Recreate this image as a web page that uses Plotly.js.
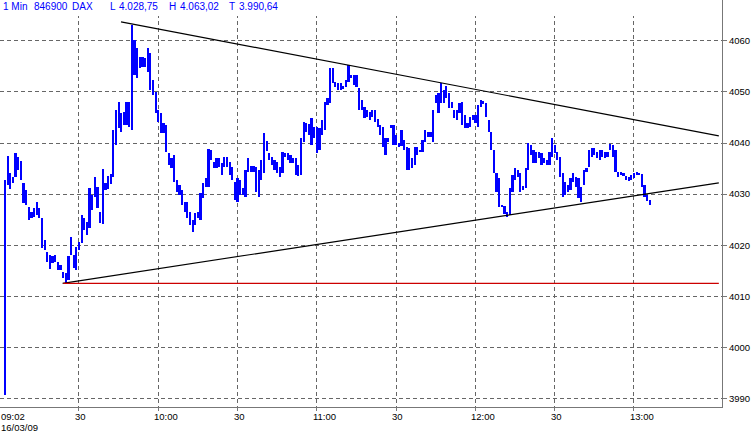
<!DOCTYPE html>
<html>
<head>
<meta charset="utf-8">
<script src="https://cdn.plot.ly/plotly-3.0.1.min.js"></script>
<style>html,body{margin:0;padding:0;background:#fff;}#chart{width:753px;height:436px;}</style>
</head>
<body>
<div id="chart"></div>
<script>
// ---- Data (1-minute bars, DAX 16/03/09, starting 09:02) ----
const tradeDate = '2009-03-16';
const firstBarMinuteOfDay = 9 * 60 + 2;

const highs = [
4032.8,4037.4,4034.1,4033.3,4038.0,4037.3,4036.5,4032.2,4030.8,4027.5,
4026.5,4027.3,4028.4,4027.3,4025.3,4021.0,4018.7,4018.1,4017.9,4018.1,
4016.7,4016.1,4014.8,4014.6,4017.9,4021.6,4018.1,4019.6,4020.6,4025.9,
4025.3,4024.5,4031.2,4029.8,4033.3,4031.4,4026.5,4034.9,4032.2,4033.5,
4034.0,4042.5,4046.4,4048.0,4045.8,4046.0,4048.0,4048.0,4063.02,4060.1,
4058.6,4056.8,4056.8,4056.6,4058.6,4057.6,4052.3,4050.0,4046.4,4045.8,
4043.9,4043.5,4038.0,4037.0,4037.6,4032.8,4031.8,4030.8,4028.4,4028.4,
4026.5,4024.9,4026.3,4026.5,4030.2,4032.2,4033.1,4038.8,4038.6,4036.3,
4037.0,4037.0,4036.1,4037.3,4037.3,4036.3,4035.3,4032.4,4033.1,4032.8,
4031.2,4034.7,4037.0,4035.5,4035.5,4035.3,4034.7,4036.7,4042.0,4040.4,
4038.0,4037.3,4036.7,4036.3,4035.3,4038.2,4038.0,4038.0,4037.6,4037.0,
4037.0,4035.7,4041.0,4044.1,4043.9,4043.7,4044.9,4043.1,4043.1,4042.9,
4044.5,4048.0,4048.8,4054.6,4054.6,4051.9,4051.7,4051.7,4051.1,4052.3,
4055.3,4053.3,4053.3,4053.3,4050.7,4048.4,4047.0,4046.4,4046.0,4046.4,
4046.4,4044.7,4043.5,4043.1,4041.0,4041.0,4043.5,4043.5,4041.6,4040.0,
4042.5,4040.6,4039.2,4039.0,4037.0,4039.2,4039.2,4038.6,4040.6,4042.5,
4042.1,4042.1,4046.4,4049.4,4049.8,4051.7,4050.4,4051.1,4049.8,4048.0,
4046.4,4046.4,4047.8,4048.0,4045.5,4043.9,4045.1,4045.5,4045.5,4047.4,
4048.4,4048.2,4047.8,4044.5,4042.1,4038.6,4034.1,4033.1,4027.9,4027.7,
4026.5,4031.2,4033.7,4035.1,4034.7,4034.1,4031.6,4035.1,4040.0,4039.6,
4038.6,4038.2,4038.2,4038.0,4037.0,4036.7,4038.2,4041.0,4039.6,4038.2,
4037.3,4034.1,4032.4,4031.8,4033.1,4034.1,4033.3,4033.1,4031.4,4034.7,
4035.1,4038.6,4039.0,4039.0,4038.2,4038.6,4038.6,4038.2,4038.2,4039.8,
4039.6,4038.6,4034.3,4034.3,4034.1,4033.5,4033.3,4033.7,4034.1,4034.3,
4034.1,4033.9,4031.8,4029.8,4028.8
];

const lows = [
3990.64,4031.8,4031.0,4032.2,4033.3,4034.7,4032.8,4028.3,4027.9,4024.9,
4025.3,4025.5,4025.9,4025.3,4019.4,4019.1,4016.7,4015.3,4016.5,4016.7,
4015.2,4015.2,4013.6,4012.6,4013.2,4018.1,4015.6,4015.2,4019.1,4020.4,
4023.0,4022.0,4023.4,4026.9,4029.4,4027.3,4024.3,4024.1,4030.8,4031.0,
4032.0,4033.3,4039.6,4042.9,4042.1,4043.5,4043.5,4043.1,4042.5,4053.3,
4052.7,4054.7,4054.9,4054.9,4053.9,4050.4,4049.4,4045.8,4044.1,4042.0,
4042.0,4038.2,4035.7,4035.1,4032.4,4030.4,4029.8,4027.9,4026.5,4025.3,
4024.0,4022.6,4024.0,4025.3,4024.9,4029.2,4031.4,4031.4,4036.7,4035.1,
4035.1,4035.3,4033.7,4035.3,4035.3,4033.7,4032.8,4028.8,4028.4,4029.8,
4029.8,4029.4,4034.3,4034.3,4034.3,4030.4,4029.4,4032.8,4034.1,4038.4,
4036.7,4035.7,4034.7,4034.1,4033.3,4034.1,4037.2,4036.7,4036.1,4036.1,
4033.7,4033.5,4033.7,4040.2,4042.1,4041.6,4039.6,4041.0,4038.0,4038.6,
4041.6,4042.5,4047.4,4047.8,4051.7,4050.9,4050.4,4050.4,4050.6,4050.9,
4051.9,4052.7,4051.3,4050.9,4046.4,4046.4,4044.9,4045.1,4044.5,4045.1,
4044.1,4043.1,4041.6,4039.2,4037.6,4040.2,4042.9,4039.6,4039.6,4039.2,
4039.4,4038.6,4034.7,4034.7,4035.1,4035.7,4037.6,4038.2,4038.2,4040.2,
4041.2,4041.2,4040.2,4047.8,4045.8,4047.8,4047.8,4048.8,4046.8,4046.8,
4044.9,4044.5,4045.8,4043.5,4042.9,4042.9,4043.1,4044.5,4043.9,4043.1,
4047.0,4047.6,4045.1,4042.1,4038.6,4034.1,4030.4,4027.4,4027.4,4026.1,
4025.5,4025.9,4030.4,4032.8,4033.3,4030.4,4030.8,4031.2,4034.7,4037.6,
4036.1,4036.1,4037.0,4035.7,4036.1,4035.7,4035.7,4037.3,4038.0,4036.7,
4033.3,4029.4,4029.8,4030.4,4030.8,4032.4,4031.4,4029.2,4028.4,4031.8,
4034.3,4035.3,4037.3,4037.6,4037.0,4036.7,4037.3,4037.0,4037.3,4038.6,
4037.3,4034.3,4033.3,4033.7,4033.5,4032.8,4032.6,4032.8,4033.1,4033.7,
4033.7,4031.4,4029.4,4028.6,4027.9
];

// Trend lines drawn on the chart (time, price)
const upperTrendTimes = ['2009-03-16 09:45:54', '2009-03-16 13:32:06'];
const upperTrendValues = [4063.7, 4041.4];
const lowerTrendTimes = ['2009-03-16 09:23:48', '2009-03-16 13:32:06'];
const lowerTrendValues = [4012.56, 4032.2];
const supportTimes = ['2009-03-16 09:24:04', '2009-03-16 13:32:06'];
const supportValues = [4012.56, 4012.56];

// Axis ticks
const xTickTimes = ['2009-03-16 09:30','2009-03-16 10:00','2009-03-16 10:30','2009-03-16 11:00','2009-03-16 11:30','2009-03-16 12:00','2009-03-16 12:30','2009-03-16 13:00'];
const xLabelTimes = ['2009-03-16 09:02','2009-03-16 09:30','2009-03-16 10:00','2009-03-16 10:30','2009-03-16 11:00','2009-03-16 11:30','2009-03-16 12:00','2009-03-16 12:30','2009-03-16 13:00'];
const xLabels = ['09:02','30','10:00','30','11:00','30','12:00','30','13:00'];
const dateLabel = '16/03/09';
const yTicks = [3990,4000,4010,4020,4030,4040,4050,4060];

// Header info
const headerTexts = ['1 Min','846900','DAX','L','4.028,75','H','4.063,02','T','3.990,64'];
const headerPx = [1.7, 33, 70.7, 109.3, 118.3, 167.7, 179, 228.3, 237.7];

// ---- Build ----
function pad(n){ return (n < 10 ? '0' : '') + n; }
const times = highs.map((_, i) => {
  const t = firstBarMinuteOfDay + i;
  return tradeDate + ' ' + pad(Math.floor(t / 60)) + ':' + pad(t % 60);
});
const spans = highs.map((h, i) => +(h - lows[i]).toFixed(3));

const plotW = 722, plotH = 407;
const font = 'Liberation Sans, Arial, sans-serif';

const traces = [
  {
    type: 'bar', x: times, y: spans, base: lows,
    width: 50000,
    marker: {color: '#0000ff', line: {width: 0}},
    hoverinfo: 'skip', showlegend: false
  },
  {type: 'scatter', mode: 'lines', x: upperTrendTimes, y: upperTrendValues,
   line: {color: '#000000', width: 1.2}, hoverinfo: 'skip', showlegend: false},
  {type: 'scatter', mode: 'lines', x: lowerTrendTimes, y: lowerTrendValues,
   line: {color: '#000000', width: 1.2}, hoverinfo: 'skip', showlegend: false},
  {type: 'scatter', mode: 'lines', x: supportTimes, y: supportValues,
   line: {color: '#cc0000', width: 1.3}, hoverinfo: 'skip', showlegend: false}
];

const annotations = [];
headerTexts.forEach((t, i) => {
  annotations.push({
    text: t, xref: 'paper', yref: 'paper',
    x: headerPx[i] / plotW, y: 1 - 6 / plotH,
    xanchor: 'left', yanchor: 'middle', xshift: -1,
    showarrow: false, font: {family: font, size: 10, color: '#0000ff'}
  });
});
xLabels.forEach((t, i) => {
  annotations.push({
    text: t, xref: 'x', yref: 'paper', x: xLabelTimes[i], y: 0,
    xanchor: 'left', yanchor: 'middle', xshift: -6, yshift: -9,
    showarrow: false, font: {family: font, size: 9.5, color: '#000'}
  });
});
annotations.push({
  text: dateLabel, xref: 'x', yref: 'paper', x: xLabelTimes[0], y: 0,
  xanchor: 'left', yanchor: 'middle', xshift: -6, yshift: -20.5,
  showarrow: false, font: {family: font, size: 9.5, color: '#000'}
});

const layout = {
  width: 753, height: 436,
  margin: {l: 0, r: 31, t: 0, b: 29, pad: 0},
  paper_bgcolor: '#ffffff', plot_bgcolor: '#ffffff',
  showlegend: false,
  bargap: 0,
  xaxis: {
    type: 'date',
    range: ['2009-03-16 09:00:06.6', '2009-03-16 13:33:18'],
    tickmode: 'array', tickvals: xTickTimes, showticklabels: false,
    ticks: 'outside', ticklen: 3, tickcolor: '#777',
    showgrid: true, gridcolor: '#666', griddash: '4px,3px', gridwidth: 1,
    showline: true, linecolor: '#777', linewidth: 1,
    zeroline: false, fixedrange: true
  },
  yaxis: {
    side: 'right',
    range: [3988.38, 4067.96],
    tickmode: 'array', tickvals: yTicks,
    ticks: 'outside', ticklen: 4, tickcolor: '#777',
    tickfont: {family: font, size: 9.5, color: '#000'},
    showgrid: true, gridcolor: '#666', griddash: '4px,3px', gridwidth: 1,
    showline: true, linecolor: '#777', linewidth: 1,
    zeroline: false, fixedrange: true
  },
  shapes: [{
    type: 'rect', xref: 'paper', yref: 'paper', x0: 0, x1: 720 / plotW,
    y0: 1 - 16 / plotH, y1: 1, fillcolor: '#ffffff', line: {width: 0}, layer: 'above'
  }],
  annotations: annotations
};

Plotly.newPlot('chart', traces, layout, {staticPlot: true, displayModeBar: false});
</script>
</body>
</html>
